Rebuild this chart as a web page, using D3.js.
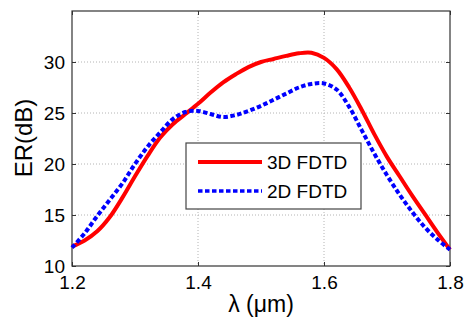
<!DOCTYPE html>
<html>
<head>
<meta charset="utf-8">
<script src="https://cdn.jsdelivr.net/npm/d3@7"></script>
<style>
    body { margin: 0; background: #fff; }
    svg text { font-family: Arial, "Liberation Sans", sans-serif; fill: #000; }
</style>
</head>
<body>
<svg id="svg" width="467" height="321"></svg>
<script>

var lambda = [1.20, 1.22, 1.24, 1.26, 1.28, 1.30, 1.32, 1.34, 1.36, 1.38, 1.40,
    1.42, 1.44, 1.46, 1.48, 1.50, 1.52, 1.54, 1.56, 1.58, 1.60,
    1.62, 1.64, 1.66, 1.68, 1.70, 1.72, 1.74, 1.76, 1.78, 1.80];

var er3d = [11.9, 12.5, 13.4, 14.8, 16.7, 18.8, 20.8, 22.6, 23.9, 24.9, 25.9,
    27.0, 28.0, 28.8, 29.5, 30.0, 30.3, 30.6, 30.85, 30.9, 30.4,
    29.3, 27.5, 25.3, 22.9, 20.7, 18.8, 16.9, 15.1, 13.3, 11.6];

var er2d = [11.8, 13.2, 14.9, 16.5, 18.1, 20.0, 21.7, 23.1, 24.4, 25.1, 25.2,
    24.9, 24.6, 24.8, 25.2, 25.7, 26.3, 26.9, 27.5, 27.85, 27.9,
    27.3, 25.6, 23.3, 21.0, 18.9, 17.0, 15.3, 13.8, 12.6, 11.6];

var xTicks = [1.2, 1.4, 1.6, 1.8],
    yTicks = [10, 15, 20, 25, 30],
    seriesNames = ['3D FDTD', '2D FDTD'];

var box = { left: 72, top: 11, right: 450, bottom: 266 };

var $svg = d3.select('#svg');

var x = d3.scaleLinear().domain([1.2, 1.8]).range([box.left, box.right]),
    y = d3.scaleLinear().domain([10, 35]).range([box.bottom, box.top]);

// grid
var $grid = $svg.append('g').attr('class', 'grid');
xTicks.slice(1, -1).forEach(function (t) {
    $grid.append('line')
        .attr('x1', x(t)).attr('x2', x(t))
        .attr('y1', box.top).attr('y2', box.bottom);
});
yTicks.slice(1).forEach(function (t) {
    $grid.append('line')
        .attr('x1', box.left).attr('x2', box.right)
        .attr('y1', y(t)).attr('y2', y(t));
});
$grid.selectAll('line')
    .attr('stroke', '#b4b4b4')
    .attr('stroke-width', 1)
    .attr('stroke-dasharray', '1,2');

// axes, ticks inward on all four sides
$svg.append('g')
    .attr('transform', 'translate(0,' + box.bottom + ')')
    .call(d3.axisBottom(x).tickValues(xTicks).tickSizeInner(-4).tickSizeOuter(0).tickPadding(10).tickFormat(d3.format('.1f')))
    .call(styleAxis)
    .selectAll('text').attr('dy', '0.71em');

$svg.append('g')
    .attr('transform', 'translate(0,' + box.top + ')')
    .call(d3.axisTop(x).tickValues(xTicks).tickSizeInner(-4).tickSizeOuter(0).tickFormat(''))
    .call(styleAxis);

$svg.append('g')
    .attr('transform', 'translate(' + box.left + ',0)')
    .call(d3.axisLeft(y).tickValues(yTicks).tickSizeInner(-4).tickSizeOuter(0).tickPadding(7))
    .call(styleAxis);

$svg.append('g')
    .attr('transform', 'translate(' + box.right + ',0)')
    .call(d3.axisRight(y).tickValues(yTicks).tickSizeInner(-4).tickSizeOuter(0).tickFormat(''))
    .call(styleAxis);

function styleAxis($g) {
    $g.select('.domain').remove();
    $g.selectAll('line').attr('stroke', '#333');
    $g.selectAll('text')
        .attr('font-size', 19)
        .attr('font-family', 'Arial, "Liberation Sans", sans-serif')
        .attr('fill', '#000');
}

$svg.append('rect')
    .attr('x', box.left).attr('y', box.top)
    .attr('width', box.right - box.left)
    .attr('height', box.bottom - box.top)
    .attr('fill', 'none')
    .attr('stroke', '#333')
    .attr('stroke-width', 1.2);

// curves
var line = d3.line()
    .x(function (d) { return x(d[0]); })
    .y(function (d) { return y(d[1]); })
    .curve(d3.curveCatmullRom.alpha(0.5));

var $curves = $svg.append('g').attr('class', 'curves');

$curves.append('path')
    .datum(d3.zip(lambda, er3d))
    .attr('d', line)
    .attr('fill', 'none')
    .attr('stroke', '#ff0000')
    .attr('stroke-width', 4);

$curves.append('path')
    .datum(d3.zip(lambda, er2d))
    .attr('d', line)
    .attr('fill', 'none')
    .attr('stroke', '#0000ff')
    .attr('stroke-width', 4)
    .attr('stroke-dasharray', '4.5,2.5');

// legend
var $legend = $svg.append('g').attr('class', 'legend');

$legend.append('rect')
    .attr('x', 186).attr('y', 143)
    .attr('width', 175).attr('height', 66)
    .attr('fill', '#fff')
    .attr('stroke', '#444')
    .attr('stroke-width', 1.2);

seriesNames.forEach(function (name, i) {
    var ly = 162 + i * 29;
    $legend.append('line')
        .attr('x1', 198).attr('x2', 262)
        .attr('y1', ly).attr('y2', ly)
        .attr('stroke', i === 0 ? '#ff0000' : '#0000ff')
        .attr('stroke-width', i === 0 ? 4 : 3.5)
        .attr('stroke-dasharray', i === 0 ? null : '4.5,2.5');
    $legend.append('text')
        .attr('x', 267).attr('y', ly + 7)
        .attr('font-size', 19)
        .text(name);
});

// axis labels
$svg.append('text')
    .attr('x', (box.left + box.right) / 2)
    .attr('y', 312)
    .attr('text-anchor', 'middle')
    .attr('font-size', 23)
    .text('λ (μm)');

$svg.append('text')
    .attr('transform', 'translate(32,138) rotate(-90)')
    .attr('text-anchor', 'middle')
    .attr('font-size', 24)
    .text('ER(dB)');

</script>
</body>
</html>
